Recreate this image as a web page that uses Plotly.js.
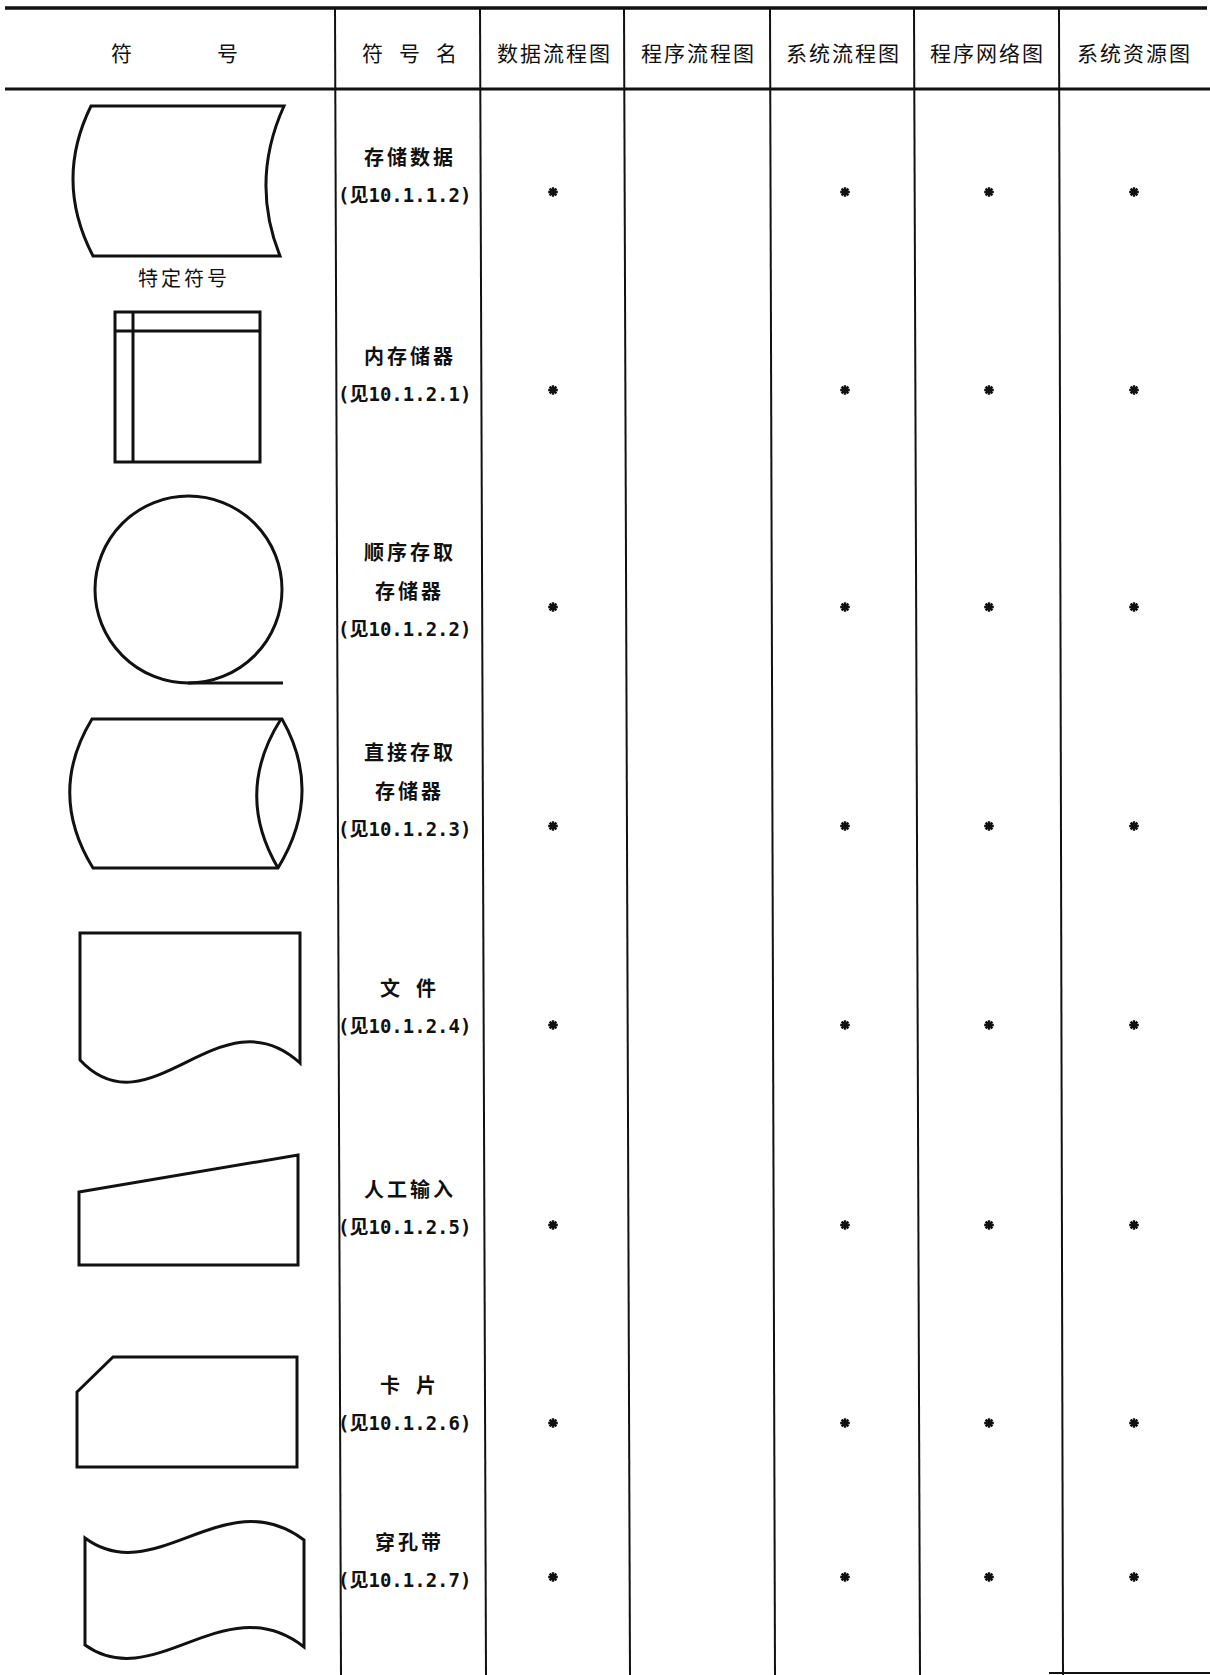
<!DOCTYPE html>
<html><head><meta charset="utf-8">
<script src="https://cdn.plot.ly/plotly-3.0.1.min.js"></script>
<style>html,body{margin:0;padding:0;background:#fff;} #chart{width:1210px;height:1675px;}</style>
</head><body><div id="chart"></div>
<script>
// ---------- data ----------
const headerLabels = ['符号', '符号名', '数据流程图', '程序流程图', '系统流程图', '程序网络图', '系统资源图'];
const chartTypes = ['数据流程图', '程序流程图', '系统流程图', '程序网络图', '系统资源图'];
const symbolNames = [['存储数据'], ['内存储器'], ['顺序存取', '存储器'], ['直接存取', '存储器'], ['文件'], ['人工输入'], ['卡片'], ['穿孔带']];
const symbolRefs = ['10.1.1.2', '10.1.2.1', '10.1.2.2', '10.1.2.3', '10.1.2.4', '10.1.2.5', '10.1.2.6', '10.1.2.7'];
const usage = [
  [1, 0, 1, 1, 1],
  [1, 0, 1, 1, 1],
  [1, 0, 1, 1, 1],
  [1, 0, 1, 1, 1],
  [1, 0, 1, 1, 1],
  [1, 0, 1, 1, 1],
  [1, 0, 1, 1, 1],
  [1, 0, 1, 1, 1]
];
const groupLabel = '特定符号';

// ---------- layout (positions / styles) ----------
const W = 1210, H = 1675;
const colLinesTop = [335, 480, 624, 770, 914, 1059];
const colLinesBot = [341, 486, 630, 775, 920, 1063];
const headerCenters = [174, 409, 553, 697, 842, 986, 1133];
const headerPitch = [106, 37, 23, 23, 23, 23, 23];
const headerY = 52;
const starX = [553, 697, 845, 989, 1134];
const starY = [192, 390, 607, 826, 1025, 1225, 1423, 1577];
const textTop = [156, 355, 551, 751, 987, 1188, 1384, 1541];
const lineGap = 39;
const nameX = 408, refX = 404;
const ink = '#111';

const cjk = '"Noto Sans CJK SC", "Noto Sans CJK JP", sans-serif';
const annotations = [];
function charRow(str, cx, y, pitch, font) {
  const chars = Array.from(str);
  const n = chars.length;
  chars.forEach((c, k) => annotations.push({
    x: cx + (k - (n - 1) / 2) * pitch, y: y, text: c, showarrow: false,
    xanchor: 'center', yanchor: 'middle', font: font
  }));
}

// header
headerLabels.forEach((lab, i) => charRow(lab, headerCenters[i], headerY, headerPitch[i], {family: cjk, size: 21, color: ink}));

// rows text
symbolNames.forEach((lines, i) => {
  lines.forEach((ln, k) => {
    const pitch = Array.from(ln).length <= 2 ? 36 : 23;
    charRow(ln, nameX, textTop[i] + k * lineGap, pitch, {family: cjk, size: 20, color: ink, weight: 700});
  });
  annotations.push({
    x: refX, y: textTop[i] + lines.length * lineGap, showarrow: false, xanchor: 'center', yanchor: 'middle',
    text: '(见' + symbolRefs[i] + ')',
    font: {family: '"DejaVu Sans Mono", "Noto Sans CJK SC", monospace', size: 19, color: ink, weight: 700}
  });
});
charRow(groupLabel, 182, 277, 23, {family: cjk, size: 20, color: ink});

// stars
const sx = [], sy = [], st = [];
usage.forEach((row, i) => row.forEach((v, j) => {
  if (v) { sx.push(starX[j]); sy.push(starY[i]); st.push(symbolNames[i].join('') + ' / ' + chartTypes[j]); }
}));

// table lines & symbols
const L = (x0, y0, x1, y1, w) => ({type: 'line', xref: 'x', yref: 'y', x0, y0, x1, y1, line: {color: ink, width: w}});
const P = (path) => ({type: 'path', xref: 'x', yref: 'y', path, line: {color: ink, width: 3}, fillcolor: 'rgba(0,0,0,0)'});
const shapes = [
  L(5, 8, 1207, 8, 3.5),
  L(5, 89, 1210, 89, 3),
  L(1049, 1673, 1210, 1673, 2)
];
colLinesTop.forEach((x, i) => shapes.push(L(x, 8, colLinesBot[i], H, 2)));
shapes.push(
  // stored data
  P('M 91,106 L 284,106 Q 250,181 280,256 L 93,256 Q 54,181 91,106 Z'),
  // internal storage
  P('M 115,312 L 260,312 L 260,462 L 115,462 Z'),
  L(133, 312, 133, 462, 3), L(115, 331, 260, 331, 3),
  // sequential access storage
  {type: 'circle', xref: 'x', yref: 'y', x0: 95, y0: 496, x1: 282, y1: 683, line: {color: ink, width: 3}},
  L(188, 683, 283, 683, 3),
  // direct access storage
  P('M 92,719 L 282,719 Q 324,793 278,868 L 93,868 Q 47,793 92,719 Z'),
  P('M 281,719 Q 234,793 278,868'),
  // document
  P('M 80,933 L 300,933 L 300,1063 C 220,990 150,1135 80,1060 Z'),
  // manual input
  P('M 79,1192 L 298,1155 L 298,1265 L 79,1265 Z'),
  // card
  P('M 77,1392 L 113,1357 L 297,1357 L 297,1467 L 77,1467 Z'),
  // punched tape
  P('M 85,1538 C 155,1590 225,1480 304,1540 L 304,1647 C 225,1585 155,1695 85,1645 Z')
);

const traces = [{
  type: 'scatter', mode: 'markers', x: sx, y: sy, text: st, hoverinfo: 'text', cliponaxis: false,
  marker: {symbol: 'asterisk-open', size: 8, color: ink, line: {color: ink, width: 2.4}}
}];

const layout = {
  width: W, height: H, margin: {l: 0, r: 0, t: 0, b: 0, pad: 0},
  paper_bgcolor: '#fff', plot_bgcolor: '#fff', showlegend: false,
  xaxis: {range: [0, W], visible: false, fixedrange: true},
  yaxis: {range: [H, 0], visible: false, fixedrange: true},
  shapes, annotations
};
Plotly.newPlot('chart', traces, layout, {displayModeBar: false, staticPlot: true});
</script></body></html>
